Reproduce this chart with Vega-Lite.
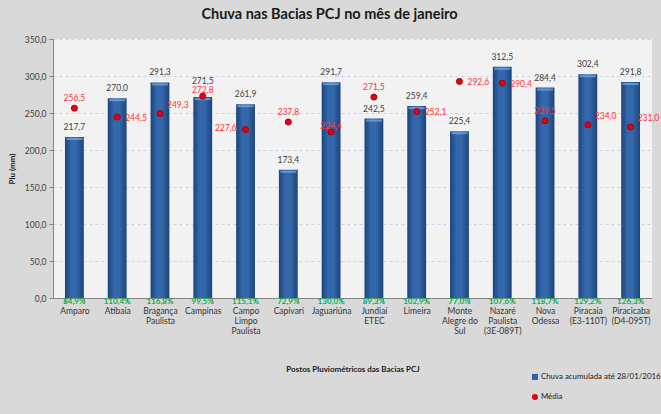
{
  "$schema": "https://vega.github.io/schema/vega-lite/v6.json",
  "width": 599,
  "height": 259,
  "autosize": "none",
  "padding": {"left": 53, "top": 39, "right": 9, "bottom": 116},
  "background": "#d9d9d9",
  "title": {"text": "Chuva nas Bacias PCJ no mês de janeiro", "font": "Lato", "fontSize": 14.5, "fontWeight": "bold", "color": "#1a1a1a", "anchor": "middle", "offset": 13, "dx": -23},
  "config": {
    "locale": {"number": {"decimal": ",", "thousands": ".", "grouping": [3], "currency": ["R$", ""]}},
    "view": {"fill": "#f2f2f2", "stroke": null},
    "font": "Lato",
    "text": {"font": "Lato"},
    "axisY": {
      "tickCount": 7, "format": ".1f", "labelOverlap": false,
      "labelFont": "Lato", "labelFontSize": 8.5, "labelColor": "#404040", "labelPadding": 3,
      "tickSize": 4, "tickColor": "#868686", "domainColor": "#868686",
      "gridColor": "#c9d6ea", "gridDash": [3, 3],
      "titleFont": "Lato", "titleFontSize": 8, "titleFontWeight": "bold", "titleColor": "#1a1a1a", "titlePadding": 8
    }
  },
  "data": {"values": [
    {"posto": "Amparo", "chuva": 217.7, "media": 256.5, "pct": 0.849},
    {"posto": "Atibaia", "chuva": 270.0, "media": 244.5, "pct": 1.104},
    {"posto": "Bragança|Paulista", "chuva": 291.3, "media": 249.3, "pct": 1.168},
    {"posto": "Campinas", "chuva": 271.5, "media": 272.8, "pct": 0.995},
    {"posto": "Campo|Limpo|Paulista", "chuva": 261.9, "media": 227.6, "pct": 1.151},
    {"posto": "Capivari", "chuva": 173.4, "media": 237.8, "pct": 0.729},
    {"posto": "Jaguariúna", "chuva": 291.7, "media": 224.4, "pct": 1.300},
    {"posto": "Jundiaí|ETEC", "chuva": 242.5, "media": 271.5, "pct": 0.893},
    {"posto": "Limeira", "chuva": 259.4, "media": 252.1, "pct": 1.029},
    {"posto": "Monte|Alegre do|Sul", "chuva": 225.4, "media": 292.6, "pct": 0.770},
    {"posto": "Nazaré|Paulista|(3E-089T)", "chuva": 312.5, "media": 290.4, "pct": 1.076},
    {"posto": "Nova|Odessa", "chuva": 284.4, "media": 239.5, "pct": 1.187},
    {"posto": "Piracaia|(E3-110T)", "chuva": 302.4, "media": 234.0, "pct": 1.292},
    {"posto": "Piracicaba|(D4-095T)", "chuva": 291.8, "media": 231.0, "pct": 1.263}
  ]},
  "encoding": {
    "x": {
      "field": "posto", "type": "nominal", "sort": null,
      "scale": {"paddingInner": 0.56, "paddingOuter": 0.28},
      "axis": {
        "title": "Postos Pluviométricos das Bacias PCJ",
        "titleFont": "Lato", "titleFontSize": 8, "titleFontWeight": "bold", "titleColor": "#1a1a1a",
        "titleY": 71, "titleBaseline": "middle",
        "labelExpr": "split(datum.label, '|')",
        "labelAngle": 0, "labelFont": "Lato", "labelFontSize": 8.5, "labelColor": "#333333",
        "labelLineHeight": 10, "labelPadding": 4, "labelBaseline": "top",
        "tickBand": "extent", "tickSize": 4, "tickColor": "#868686",
        "domainColor": "#868686", "grid": false
      }
    }
  },
  "layer": [
    {
      "mark": {
        "type": "bar",
        "fill": {"gradient": "linear", "x1": 0, "x2": 1, "y1": 0, "y2": 0,
          "stops": [
            {"offset": 0, "color": "#1c447a"},
            {"offset": 0.35, "color": "#3468ad"},
            {"offset": 0.6, "color": "#3468ad"},
            {"offset": 1, "color": "#1c447a"}
          ]}
      },
      "encoding": {
        "y": {"field": "chuva", "type": "quantitative", "title": "Plu (mm)", "scale": {"domain": [0, 350]}}
      }
    },
    {
      "mark": {"type": "tick", "color": "#7eaee6", "thickness": 2, "size": 16, "yOffset": 2},
      "encoding": {"y": {"field": "chuva", "type": "quantitative", "title": "Plu (mm)"}}
    },
    {
      "transform": [{"filter": "datum.posto !== 'Campinas'"}],
      "mark": {"type": "text", "baseline": "bottom", "dy": -5, "fontSize": 8.5, "color": "#404040"},
      "encoding": {
        "y": {"field": "chuva", "type": "quantitative", "title": "Plu (mm)"},
        "text": {"field": "chuva", "type": "quantitative", "format": ".1f"}
      }
    },
    {
      "transform": [{"filter": "datum.posto === 'Campinas'"}],
      "mark": {"type": "text", "baseline": "bottom", "dy": -11, "fontSize": 8.5, "color": "#404040"},
      "encoding": {
        "y": {"field": "chuva", "type": "quantitative", "title": "Plu (mm)"},
        "text": {"field": "chuva", "type": "quantitative", "format": ".1f"}
      }
    },
    {
      "mark": {"type": "point", "filled": true, "size": 36, "stroke": "#a00000", "strokeWidth": 1, "opacity": 1},
      "encoding": {
        "y": {"field": "media", "type": "quantitative", "title": "Plu (mm)"},
        "color": {
          "datum": "Média",
          "scale": {"domain": ["Chuva acumulada até 28/01/2016", "Média"], "range": ["#2e62a6", "#e3001b"]},
          "legend": {
            "title": null, "orient": "none", "legendX": 478, "legendY": 334, "padding": 0,
            "labelFont": "Lato", "labelFontSize": 7.9, "labelColor": "#1a1a1a", "labelOffset": 2,
            "symbolSize": 36, "rowPadding": 11, "symbolStrokeWidth": 0
          }
        },
        "shape": {
          "datum": "Média",
          "scale": {"domain": ["Chuva acumulada até 28/01/2016", "Média"], "range": ["square", "circle"]},
          "legend": {
            "title": null, "orient": "none", "legendX": 478, "legendY": 334, "padding": 0,
            "labelFont": "Lato", "labelFontSize": 7.9, "labelColor": "#1a1a1a", "labelOffset": 2,
            "symbolSize": 36, "rowPadding": 11, "symbolStrokeWidth": 0
          }
        }
      }
    },
    {
      "transform": [{"filter": {"field": "posto", "oneOf": ["Amparo", "Capivari", "Jundiaí|ETEC", "Nova|Odessa"]}}],
      "mark": {"type": "text", "baseline": "middle", "dy": -10, "fontSize": 8.5, "color": "#ff3333"},
      "encoding": {
        "y": {"field": "media", "type": "quantitative", "title": "Plu (mm)"},
        "text": {"field": "media", "type": "quantitative", "format": ".1f"}
      }
    },
    {
      "transform": [{"filter": {"field": "posto", "oneOf": ["Campinas", "Jaguariúna"]}}],
      "mark": {"type": "text", "baseline": "middle", "dy": -6, "fontSize": 8.5, "color": "#ff3333"},
      "encoding": {
        "y": {"field": "media", "type": "quantitative", "title": "Plu (mm)"},
        "text": {"field": "media", "type": "quantitative", "format": ".1f"}
      }
    },
    {
      "transform": [{"filter": {"field": "posto", "oneOf": ["Atibaia", "Limeira", "Monte|Alegre do|Sul", "Nazaré|Paulista|(3E-089T)"]}}],
      "mark": {"type": "text", "baseline": "middle", "align": "left", "dx": 8, "dy": 1, "fontSize": 8.5, "color": "#ff3333"},
      "encoding": {
        "y": {"field": "media", "type": "quantitative", "title": "Plu (mm)"},
        "text": {"field": "media", "type": "quantitative", "format": ".1f"}
      }
    },
    {
      "transform": [{"filter": {"field": "posto", "oneOf": ["Bragança|Paulista", "Piracaia|(E3-110T)", "Piracicaba|(D4-095T)"]}}],
      "mark": {"type": "text", "baseline": "middle", "align": "left", "dx": 7, "dy": -9, "fontSize": 8.5, "color": "#ff3333"},
      "encoding": {
        "y": {"field": "media", "type": "quantitative", "title": "Plu (mm)"},
        "text": {"field": "media", "type": "quantitative", "format": ".1f"}
      }
    },
    {
      "transform": [{"filter": {"field": "posto", "oneOf": ["Campo|Limpo|Paulista"]}}],
      "mark": {"type": "text", "baseline": "middle", "align": "right", "dx": -9, "dy": -2, "fontSize": 8.5, "color": "#ff3333"},
      "encoding": {
        "y": {"field": "media", "type": "quantitative", "title": "Plu (mm)"},
        "text": {"field": "media", "type": "quantitative", "format": ".1f"}
      }
    },
    {
      "mark": {"type": "text", "baseline": "middle", "dy": 4, "fontSize": 8, "fontWeight": "bold", "color": "#00b050"},
      "encoding": {
        "y": {"datum": 0},
        "text": {"field": "pct", "type": "quantitative", "format": ".1%"}
      }
    }
  ]
}
